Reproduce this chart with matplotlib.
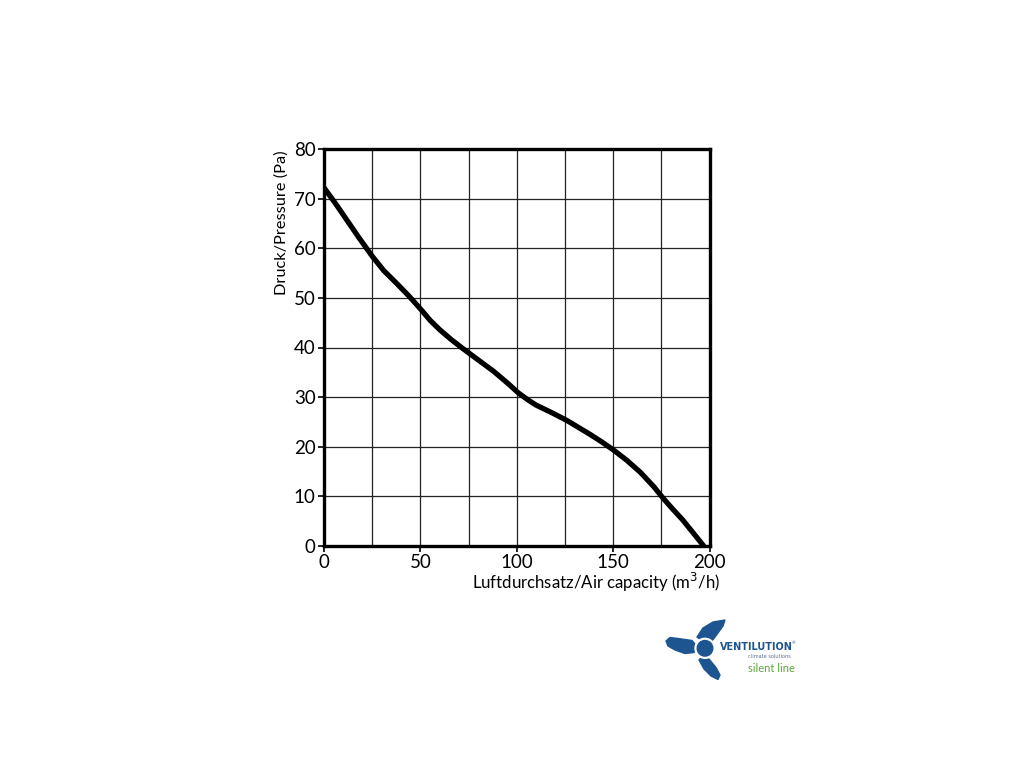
import matplotlib.pyplot as plt
import numpy as np
from matplotlib.patches import Polygon, Circle

plt.rcParams['font.family'] = ['Lato', 'DejaVu Sans']

# pressure curve
airflow = [0, 6, 12, 18, 25, 31, 38, 44, 50, 55, 60, 66, 72, 80, 88, 95, 101,
           106, 110, 118, 126, 132, 138, 144, 150, 157, 164, 171, 176, 181, 186, 191, 197]
pressure = [72.2, 69.0, 65.6, 62.2, 58.4, 55.5, 52.8, 50.4, 47.8, 45.5, 43.6, 41.6, 39.8,
            37.5, 35.2, 32.9, 30.8, 29.4, 28.4, 26.9, 25.3, 23.9, 22.5, 21.0, 19.4, 17.3,
            14.9, 12.0, 9.6, 7.4, 5.3, 2.9, 0.0]

x_ticks = [0, 50, 100, 150, 200]
y_ticks = [0, 10, 20, 30, 40, 50, 60, 70, 80]

fig = plt.figure(figsize=(10.24, 7.68), dpi=100)
ax = fig.add_axes([324 / 1024, 1 - 546 / 768, 385.5 / 1024, 397 / 768])

ax.plot(airflow, pressure, color='black', lw=3.8, solid_capstyle='round',
        solid_joinstyle='round', zorder=3)

ax.set_xlim(0, 200)
ax.set_ylim(0, 80)
ax.set_xticks(x_ticks)
ax.set_yticks(y_ticks)
ax.set_xticks(np.arange(0, 201, 25), minor=True)
ax.grid(which='both', color='#222222', lw=0.9)
ax.tick_params(which='major', direction='out', length=4, width=1.2,
               labelsize=13.5, pad=2)
ax.tick_params(which='minor', length=0)
for s in ax.spines.values():
    s.set_linewidth(2.4)

ax.set_xlabel('Luftdurchsatz/Air capacity (m$^3$/h)', fontsize=12.1, loc='right')
ax.xaxis.label.set_va('center')
ax.xaxis.set_label_coords(1.027, -0.091)
ax.set_ylabel('Druck/Pressure (Pa)', fontsize=11.8, loc='top')
ax.yaxis.label.set_va('center')
ax.yaxis.set_label_coords(-0.109, 0.997)

# logo, drawn in pixel coordinates
lg = fig.add_axes([660 / 1024, 1 - 685 / 768, 160 / 1024, 70 / 768])
lg.set_xlim(660, 820)
lg.set_ylim(685, 615)
lg.axis('off')
blue = '#1d5590'
lg.add_patch(Polygon([(697, 637), (703, 628), (713, 622), (725, 620), (723, 626),
                      (718, 633), (712, 641), (705, 643)], closed=True, color=blue))
lg.add_patch(Polygon([(666, 641), (670, 637.5), (681.7, 639), (692, 640.5), (697.5, 646.7),
                      (694, 652.5), (685, 653.5), (675, 650), (668, 646)],
                     closed=True, color=blue))
lg.add_patch(Polygon([(702.5, 656), (709, 659), (716, 667.5), (720, 675), (718, 679.5),
                      (711, 676), (704, 669), (699, 660)], closed=True, color=blue))
lg.add_patch(Circle((705, 648.3), 10, color='white'))
lg.add_patch(Circle((705, 648.3), 7.8, color=blue))
lg.text(720, 647, 'VENTILUTION', color=blue, fontsize=7.0, fontweight='bold',
        family=['Liberation Sans Narrow', 'DejaVu Sans'], va='center', ha='left')
lg.text(792, 643, '®', color=blue, fontsize=3.2, va='center', ha='left')
lg.text(748, 656, 'climate solutions', color='#5a7090', fontsize=3.6,
        va='center', ha='left', family=['Liberation Sans Narrow', 'DejaVu Sans'])
lg.text(748, 668, 'silent line', color='#5aa53a', fontsize=8, va='center', ha='left')

fig.savefig('out.png', dpi=100)
